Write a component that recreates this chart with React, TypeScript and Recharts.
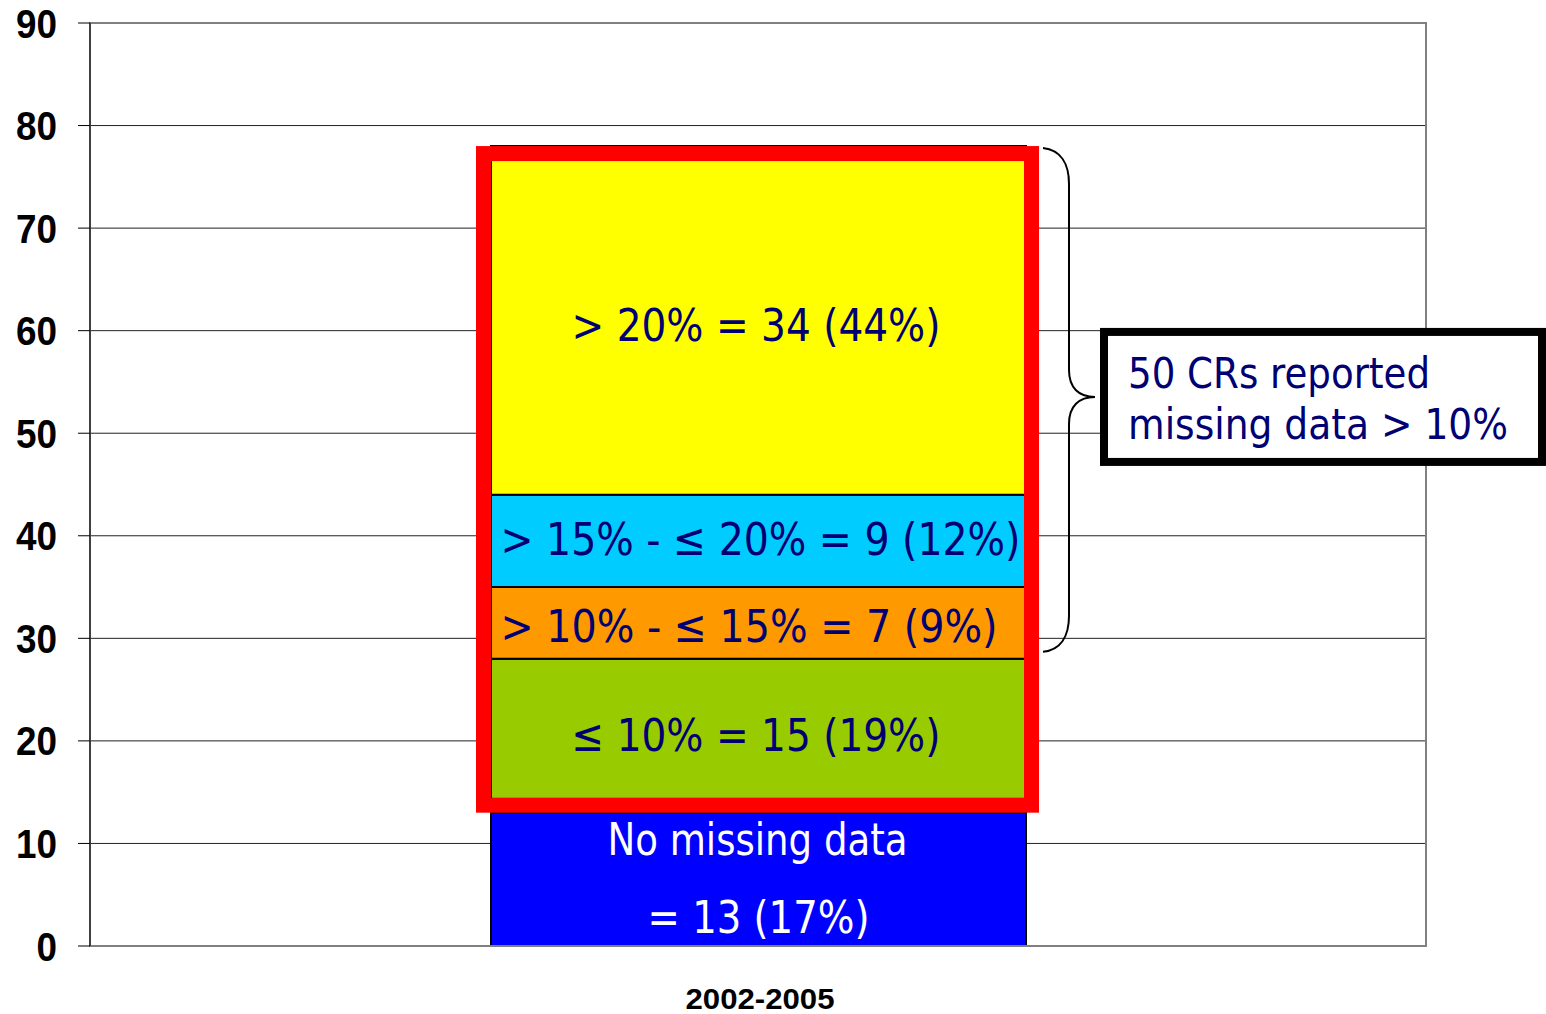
import React from 'react';
import { BarChart, Bar, XAxis, YAxis, CartesianGrid, ReferenceArea } from 'recharts';

// ---- data ----
const categories = ['2002-2005'];
const noMissingData = [13];
const upTo10 = [15];
const from10to15 = [7];
const from15to20 = [9];
const over20 = [34];
const yTicks = [0, 10, 20, 30, 40, 50, 60, 70, 80, 90];

const labelNoMissing = ['No missing data', '= 13 (17%)'];
const labelUpTo10 = ['\u2264 10% = 15 (19%)'];
const label10to15 = ['> 10% - \u2264 15% = 7 (9%)'];
const label15to20 = ['> 15% - \u2264 20% = 9 (12%)'];
const labelOver20 = ['> 20% = 34 (44%)'];
const calloutLines = ['50 CRs reported', 'missing data > 10%'];

const data = categories.map((name, i) => ({
  name,
  noMissing: noMissingData[i],
  upTo10: upTo10[i],
  from10to15: from10to15[i],
  from15to20: from15to20[i],
  over20: over20[i],
}));

const highlightFrom = noMissingData[0];
const braceFrom = noMissingData[0] + upTo10[0];
const total = noMissingData[0] + upTo10[0] + from10to15[0] + from15to20[0] + over20[0];

// ---- styles ----
const NAVY = '#000073';
const LABEL_FONT = "'DejaVu Sans Condensed', 'DejaVu Sans', sans-serif";

type LabelCfg = { lines: string[]; color: string; dx: number[]; dy: number[]; len: number[] };

const makeLabel = (cfg: LabelCfg) => (p: any) => {
  const vb = p && p.viewBox && p.viewBox.width != null ? p.viewBox : p;
  const cx = vb.x + vb.width / 2;
  const cy = vb.y + vb.height / 2;
  return (
    <g>
      {cfg.lines.map((t, i) => (
        <text
          key={i}
          x={cx + cfg.dx[i]}
          y={cy + cfg.dy[i]}
          textAnchor="middle"
          fill={cfg.color}
          fontSize={45}
          fontFamily={LABEL_FONT}
          textLength={cfg.len[i]}
          lengthAdjust="spacingAndGlyphs"
        >
          {t}
        </text>
      ))}
    </g>
  );
};

const YTick = (props: any) => {
  const { x, y, payload } = props;
  const s = String(payload.value);
  return (
    <text
      x={x}
      y={y + 14.5}
      textAnchor="end"
      fill="#000"
      fontSize={41}
      fontWeight="bold"
      fontFamily="'Liberation Sans', Arial, sans-serif"
      textLength={s.length * 20.5}
      lengthAdjust="spacingAndGlyphs"
    >
      {s}
    </text>
  );
};

const XTick = (props: any) => {
  const { x, y, payload } = props;
  return (
    <text
      x={x + 2}
      y={y + 63}
      textAnchor="middle"
      fill="#000"
      fontSize={30}
      fontWeight="bold"
      fontFamily="'Liberation Sans', Arial, sans-serif"
      textLength={149}
      lengthAdjust="spacingAndGlyphs"
    >
      {payload.value}
    </text>
  );
};

const RedFrame = (p: any) => {
  const cx = p.x + p.width / 2;
  return (
    <rect
      x={cx - 274.5}
      y={p.y + 7.5}
      width={548}
      height={p.height - 15}
      fill="none"
      stroke="#FF0000"
      strokeWidth={15}
    />
  );
};

const BraceCallout = (p: any) => {
  const cx = p.x + p.width / 2;
  const top = p.y + 2;
  const bot = p.y + p.height - 7;
  const tip = top + (bot - top) * 0.494;
  const x0 = cx + 285;
  const x1 = cx + 311;
  const x2 = cx + 337;
  const d = `M${x0},${top} C${x0 + 18},${top + 2} ${x1},${top + 16} ${x1},${top + 36} L${x1},${tip - 27} C${x1},${tip - 9} ${x1 + 10},${tip} ${x2},${tip} C${x1 + 10},${tip} ${x1},${tip + 9} ${x1},${tip + 27} L${x1},${bot - 36} C${x1},${bot - 16} ${x0 + 18},${bot - 2} ${x0},${bot}`;
  return (
    <g>
      <path d={d} fill="none" stroke="#000" strokeWidth={2} />
      <rect x={cx + 346} y={tip - 65} width={438} height={130} fill="#fff" stroke="#000" strokeWidth={8} />
      {calloutLines.map((t, i) => (
        <text
          key={i}
          x={cx + 370}
          y={tip + (i === 0 ? -9 : 42)}
          fill={NAVY}
          fontSize={43}
          fontFamily={LABEL_FONT}
          textLength={i === 0 ? 302 : 380}
          lengthAdjust="spacingAndGlyphs"
        >
          {t}
        </text>
      ))}
    </g>
  );
};

export default function App() {
  return (
    <div style={{ position: 'absolute', left: 0, top: 0, width: 1546, height: 1014, background: '#fff' }}>
      <BarChart
        width={1546}
        height={1014}
        data={data}
        margin={{ top: 23, right: 120, bottom: 8, left: 0 }}
        barCategoryGap={0}
      >
        <CartesianGrid vertical={false} horizontal stroke="#222" strokeWidth={1} />
        <ReferenceArea y1={0} y2={90} fill="none" stroke="#808080" strokeWidth={2} ifOverflow="visible" />
        <XAxis
          dataKey="name"
          axisLine={{ stroke: '#808080', strokeWidth: 2 }}
          tickLine={false}
          tickSize={0}
          tickMargin={0}
          height={60}
          tick={<XTick />}
        />
        <YAxis
          domain={[0, 90]}
          ticks={yTicks}
          interval={0}
          width={90}
          axisLine={{ stroke: '#000', strokeWidth: 1 }}
          tickLine={{ stroke: '#000', strokeWidth: 1 }}
          tickSize={12}
          tickMargin={21}
          tick={<YTick />}
        />
        <Bar dataKey="noMissing" stackId="a" fill="#0000FF" stroke="#000" strokeWidth={2} barSize={535} isAnimationActive={false}
          label={makeLabel({ lines: labelNoMissing, color: '#FFFFFF', dx: [-1, 0], dy: [-24, 54], len: [300, 222] })} />
        <Bar dataKey="upTo10" stackId="a" fill="#99CC00" stroke="#000" strokeWidth={2} barSize={535} isAnimationActive={false}
          label={makeLabel({ lines: labelUpTo10, color: NAVY, dx: [-2.5], dy: [15], len: [369] })} />
        <Bar dataKey="from10to15" stackId="a" fill="#FF9900" stroke="#000" strokeWidth={2} barSize={535} isAnimationActive={false}
          label={makeLabel({ lines: label10to15, color: NAVY, dx: [-9.5], dy: [19], len: [497] })} />
        <Bar dataKey="from15to20" stackId="a" fill="#00CCFF" stroke="#000" strokeWidth={2} barSize={535} isAnimationActive={false}
          label={makeLabel({ lines: label15to20, color: NAVY, dx: [2], dy: [14], len: [520] })} />
        <Bar dataKey="over20" stackId="a" fill="#FFFF00" stroke="#000" strokeWidth={2} barSize={535} isAnimationActive={false}
          label={makeLabel({ lines: labelOver20, color: NAVY, dx: [-2.5], dy: [21], len: [369] })} />
        <ReferenceArea y1={highlightFrom} y2={total} ifOverflow="visible" shape={<RedFrame />} zIndex={1500} />
        <ReferenceArea y1={braceFrom} y2={total} ifOverflow="visible" shape={<BraceCallout />} zIndex={1500} />
      </BarChart>
    </div>
  );
}
